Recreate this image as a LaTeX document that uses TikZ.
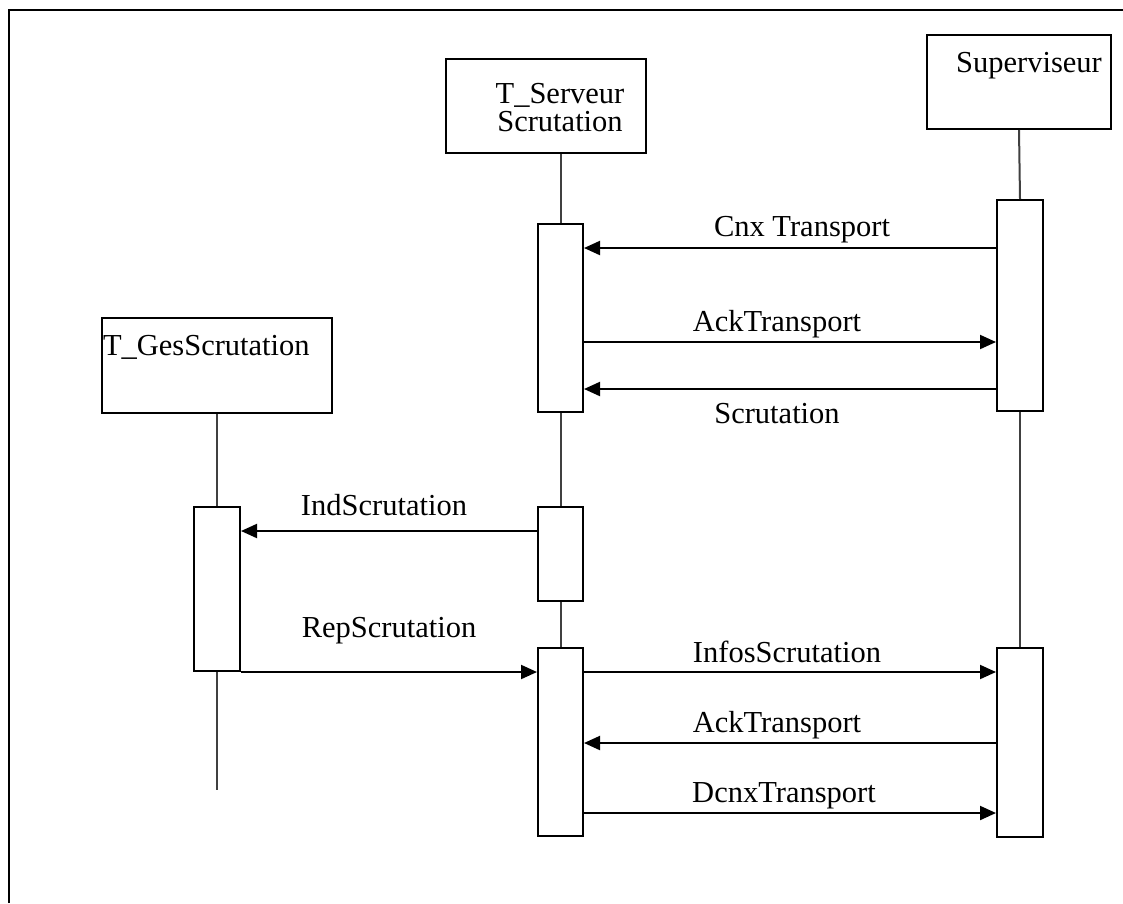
\documentclass[tikz,border=0pt]{standalone}
\usepackage{fontspec}
\setmainfont{Liberation Serif}
\usetikzlibrary{arrows.meta}
\begin{document}
\begin{tikzpicture}[x=1pt,y=-1pt,
  line width=2pt,
  box/.style={draw,rectangle,line width=2pt,inner sep=0pt,fill=white},
  life/.style={draw,line width=2pt,black!75},
  msg/.style={draw,line width=2pt,-{Triangle[length=16pt,width=14pt]}},
  txt/.style={font=\fontsize{30.5}{33}\selectfont,inner sep=0pt,anchor=base}
]
\useasboundingbox (0,0) rectangle (1123,903);
% outer frame (top and left edges)
\draw[line width=2.6pt] (9,903) -- (9,10) -- (1123,10);

% object heads
\node[box,minimum width=184pt,minimum height=94pt] (supHead) at (1019,82) {};
\node[box,minimum width=200pt,minimum height=94pt] (srvHead) at (546,106) {};
\node[box,minimum width=230pt,minimum height=95pt] (gesHead) at (217,365.5) {};
\node[txt] (supName) at (1029,72) {Superviseur};
\node[txt] (srvName1) at (560,103) {T\_Serveur};
\node[txt] (srvName2) at (560,131) {Scrutation};
\node[txt,anchor=base west] (gesName) at (102,355) {T\_GesScrutation};

% activation bars
\node[box,minimum width=46pt,minimum height=211pt] (supA) at (1020,305.5) {};
\node[box,minimum width=46pt,minimum height=189pt] (supB) at (1020,742.5) {};
\node[box,minimum width=45pt,minimum height=188pt] (srvA) at (560.5,318) {};
\node[box,minimum width=45pt,minimum height=94pt] (srvB) at (560.5,554) {};
\node[box,minimum width=45pt,minimum height=188pt] (srvC) at (560.5,742) {};
\node[box,minimum width=46pt,minimum height=164pt] (gesA) at (217,589) {};
\coordinate (gesEnd) at (217,790);

% lifelines
\draw[life] (supHead.south) -- (supA.north);
\draw[life] (supA.south) -- (supB.north);
\draw[life] (srvHead.south -| srvA.north) -- (srvA.north);
\draw[life] (srvA.south) -- (srvB.north);
\draw[life] (srvB.south) -- (srvC.north);
\draw[life] (gesHead.south) -- (gesA.north);
\draw[life] (gesA.south) -- (gesEnd);

% message levels
\coordinate (m1) at (0,248);
\coordinate (m2) at (0,342);
\coordinate (m3) at (0,389);
\coordinate (m4) at (0,531);
\coordinate (m5) at (0,672);
\coordinate (m6) at (0,672);
\coordinate (m7) at (0,743);
\coordinate (m8) at (0,813);

% messages
\draw[msg] (supA.west |- m1) -- (srvA.east |- m1);
\draw[msg] (srvA.east |- m2) -- (supA.west |- m2);
\draw[msg] (supA.west |- m3) -- (srvA.east |- m3);
\draw[msg] (srvB.west |- m4) -- (gesA.east |- m4);
\draw[msg] (gesA.east |- m5) -- (srvC.west |- m5);
\draw[msg] (srvC.east |- m6) -- (supB.west |- m6);
\draw[msg] (supB.west |- m7) -- (srvC.east |- m7);
\draw[msg] (srvC.east |- m8) -- (supB.west |- m8);

% message labels
\node[txt] (l1) at (802,236) {Cnx Transport};
\node[txt] (l2) at (777,331) {AckTransport};
\node[txt] (l3) at (777,423) {Scrutation};
\node[txt] (l4) at (384,515) {IndScrutation};
\node[txt] (l5) at (389,637) {RepScrutation};
\node[txt] (l6) at (787,662) {InfosScrutation};
\node[txt] (l7) at (777,732) {AckTransport};
\node[txt] (l8) at (784,802) {DcnxTransport};
\end{tikzpicture}
\end{document}
